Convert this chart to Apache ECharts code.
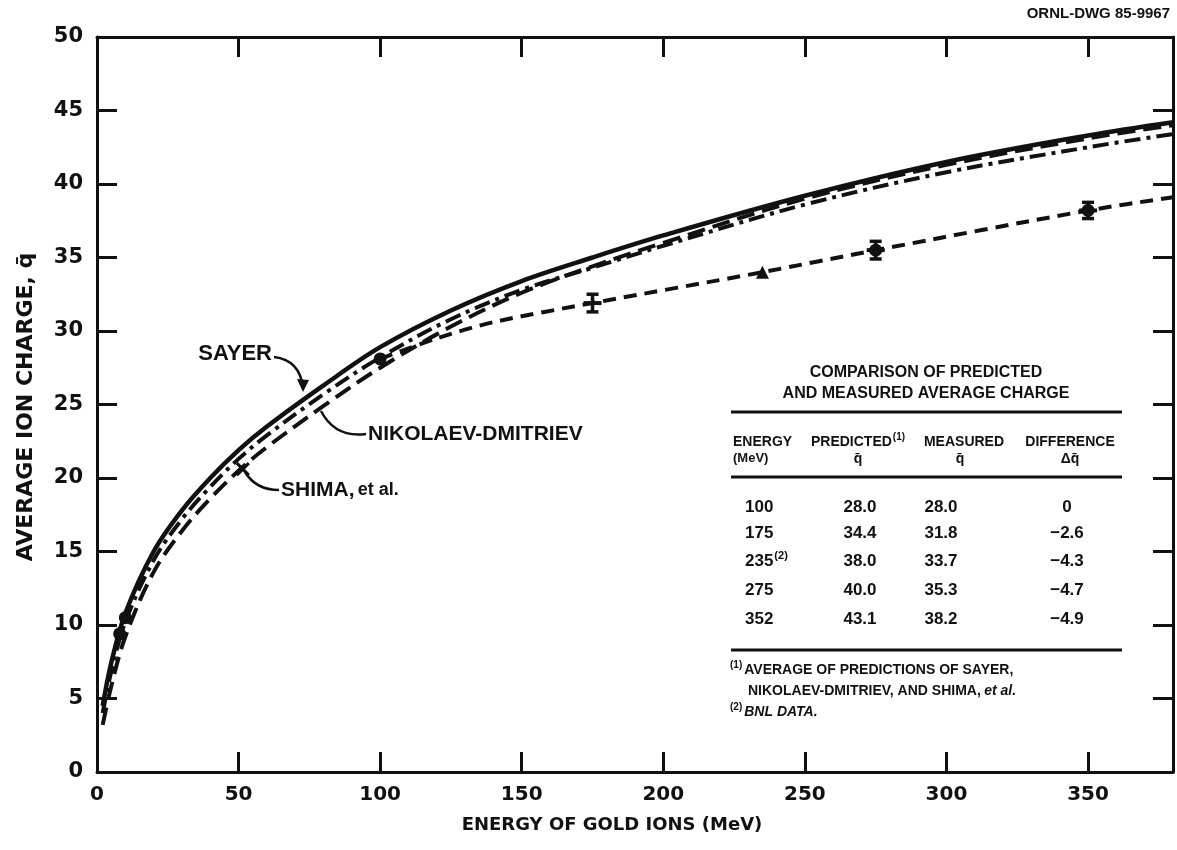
<!DOCTYPE html>
<html><head><meta charset="utf-8">
<script src="https://cdn.jsdelivr.net/npm/echarts@6/dist/echarts.min.js"></script>
<style>html,body{margin:0;padding:0;background:#fff}#c{width:1177px;height:850px}</style>
</head><body><div id="c"></div>
<script>
// Energy grid (MeV) for the three theoretical curves
const energy   = [2, 5, 10, 20, 30, 40, 50, 60, 80, 100, 125, 150, 175, 200, 250, 300, 350, 380];
const sayer    = [4.5, 7.4, 10.8, 15.0, 17.8, 20.0, 21.9, 23.5, 26.3, 28.9, 31.4, 33.4, 35.0, 36.5, 39.2, 41.5, 43.3, 44.2];
const nikolaev = [4.0, 6.8, 10.2, 14.4, 17.2, 19.4, 21.3, 22.9, 25.7, 28.2, 30.8, 32.8, 34.3, 35.8, 38.6, 40.8, 42.5, 43.4];
const shima    = [3.2, 5.8, 9.2, 13.6, 16.4, 18.6, 20.5, 22.1, 24.9, 27.5, 30.3, 32.6, 34.4, 36.0, 39.0, 41.3, 43.1, 44.0];
// measured trend line
const measuredLineE = [100, 120, 140, 175, 235, 275, 350, 380];
const measuredLineQ = [28.1, 29.5, 30.6, 31.9, 34.0, 35.5, 38.2, 39.1];
// measured points
const circlePts = [[8, 9.4], [10, 10.5], [100, 28.1], [275, 35.5], [350, 38.2]];
const trianglePts = [[235, 34.0]];
const errorBars = [[175, 31.9, 0.6], [275, 35.5, 0.6], [350, 38.2, 0.55]];
const shimaMark = [[51.5, 20.6]];
// axis ticks
const xTicks = [0, 50, 100, 150, 200, 250, 300, 350];
const yTicks = [0, 5, 10, 15, 20, 25, 30, 35, 40, 45, 50];
// table
const tblEnergy = ['100', '175', '235', '275', '352'];
const tblPred   = ['28.0', '34.4', '38.0', '40.0', '43.1'];
const tblMeas   = ['28.0', '31.8', '33.7', '35.3', '38.2'];
const tblDiff   = ['0', '\u22122.6', '\u22124.3', '\u22124.7', '\u22124.9'];

const INK = '#111';
const FONT = "'Liberation Sans', Arial, sans-serif";
const WFONT = "'DejaVu Sans', 'Liberation Sans', sans-serif";
const pair = (xs, ys) => xs.map((x, i) => [x, ys[i]]);

const chart = echarts.init(document.getElementById('c'), null, {renderer: 'canvas'});

const axisCommon = () => ({
  type: 'value', min: 0,
  axisLine: {show: true, onZero: false, lineStyle: {color: INK, width: 3}},
  axisTick: {show: true, inside: true, length: 20, lineStyle: {color: INK, width: 3}},
  splitLine: {show: false}
});

const option = {
  animation: false,
  backgroundColor: '#fff',
  grid: {left: 97, right: 4, top: 37, bottom: 78, containLabel: false},
  xAxis: [
    Object.assign(axisCommon(), {
      position: 'bottom', max: 380, interval: 50,
      axisLabel: {show: true, color: INK, fontFamily: WFONT, fontWeight: 'bold', fontSize: 20, margin: 13,
        showMaxLabel: false,
        formatter: v => xTicks.includes(v) ? String(v) : ''}
    }),
    Object.assign(axisCommon(), {position: 'top', max: 380, interval: 50, axisLabel: {show: false}})
  ],
  yAxis: [
    Object.assign(axisCommon(), {
      position: 'left', max: 50, interval: 5,
      axisLabel: {show: true, color: INK, fontFamily: WFONT, fontWeight: 'bold', fontSize: 21, margin: 14,
        formatter: v => yTicks.includes(v) ? String(v) : ''}
    }),
    Object.assign(axisCommon(), {position: 'right', max: 50, interval: 5, axisLabel: {show: false}})
  ],
  series: [
    {name: 'SAYER', type: 'line', data: pair(energy, sayer), smooth: 0.35, showSymbol: false,
      lineStyle: {color: INK, width: 4.5, type: 'solid'}},
    {name: 'NIKOLAEV-DMITRIEV', type: 'line', data: pair(energy, nikolaev), smooth: 0.35, showSymbol: false,
      lineStyle: {color: INK, width: 4, type: [16, 6, 4, 6]}},
    {name: 'SHIMA', type: 'line', data: pair(energy, shima), smooth: 0.35, showSymbol: false,
      lineStyle: {color: INK, width: 4, type: [18, 8]}},
    {name: 'MEASURED', type: 'line', data: pair(measuredLineE, measuredLineQ), smooth: 0.3, showSymbol: false,
      lineStyle: {color: INK, width: 4, type: [13, 8]}},
    {type: 'scatter', data: circlePts, symbol: 'circle', symbolSize: 13, itemStyle: {color: INK, opacity: 1}, z: 5},
    {type: 'scatter', data: trianglePts, symbol: 'triangle', symbolSize: 13, itemStyle: {color: INK, opacity: 1}, z: 5},
    {type: 'scatter', data: shimaMark, symbol: 'path://M0,0 L10,10 M10,0 L0,10', symbolSize: 12,
      itemStyle: {color: 'none', borderColor: INK, borderWidth: 3, opacity: 1}, z: 5},
    {type: 'custom', data: errorBars, z: 6,
      renderItem: function (params, api) {
        const x = api.value(0), y = api.value(1), e = api.value(2);
        const top = api.coord([x, y + e]), bot = api.coord([x, y - e]), mid = api.coord([x, y]);
        const cw = 6;
        return {type: 'group', children: [
          {type: 'line', shape: {x1: top[0], y1: top[1], x2: bot[0], y2: bot[1]}, style: {stroke: INK, lineWidth: 3.5}},
          {type: 'line', shape: {x1: top[0] - cw, y1: top[1], x2: top[0] + cw, y2: top[1]}, style: {stroke: INK, lineWidth: 3.5}},
          {type: 'line', shape: {x1: bot[0] - cw, y1: bot[1], x2: bot[0] + cw, y2: bot[1]}, style: {stroke: INK, lineWidth: 3.5}},
          {type: 'line', shape: {x1: mid[0] - 9, y1: mid[1], x2: mid[0] + 9, y2: mid[1]}, style: {stroke: INK, lineWidth: 4}}
        ]};
      }}
  ]
};

// ---------- text and annotation graphics ----------
const g = [];
const txt = (x, y, text, size, opts, family) => g.push({
  type: 'text', x: x, y: y, z: 20,
  style: Object.assign({text: text, fill: INK, font: `bold ${size}px ${family || FONT}`, textAlign: 'left', textVerticalAlign: 'middle'}, (opts && opts.style) || {})
});

txt(1170, 14, 'ORNL-DWG 85-9967', 15, {style: {textAlign: 'right'}});
txt(612, 825, 'ENERGY OF GOLD IONS (MeV)', 18, {style: {textAlign: 'center'}}, WFONT);
g.push({type: 'text', x: 26, y: 407, rotation: Math.PI / 2, z: 20,
  style: {text: 'AVERAGE ION CHARGE, q\u0304', fill: INK, font: `bold 22px ${WFONT}`, textAlign: 'center', textVerticalAlign: 'middle'}});

// curve labels
txt(272, 354, 'SAYER', 22, {style: {textAlign: 'right'}});
txt(368, 434, 'NIKOLAEV-DMITRIEV', 21);
g.push({type: 'text', x: 281, y: 490, z: 20, style: {
  text: '{b|SHIMA,} {i|et al.}', textVerticalAlign: 'middle',
  rich: {b: {font: `bold 21px ${FONT}`, fill: INK}, i: {font: `bold 18px ${FONT}`, fill: INK}}}});

// pointers
const ptr = (x1, y1, cx, cy, x2, y2) => g.push({type: 'bezierCurve', z: 20,
  shape: {x1: x1, y1: y1, cpx1: cx, cpy1: cy, x2: x2, y2: y2}, style: {stroke: INK, lineWidth: 2.5, fill: 'none'}});
ptr(274, 357, 300, 360, 303, 388);
g.push({type: 'polygon', z: 21, shape: {points: [[297, 379], [309, 380], [303, 392]]}, style: {fill: INK}});
ptr(366, 434, 335, 438, 321, 411);
ptr(279, 490, 256, 490, 245, 472);

// table
const TL = 731, TR = 1122;
const hline = (y, w) => g.push({type: 'line', z: 20, shape: {x1: TL, y1: y, x2: TR, y2: y}, style: {stroke: INK, lineWidth: w}});
txt(926, 373, 'COMPARISON OF PREDICTED', 16, {style: {textAlign: 'center'}});
txt(926, 394, 'AND MEASURED AVERAGE CHARGE', 16, {style: {textAlign: 'center'}});
hline(412, 3);
const colX = [762, 858, 964, 1070];
txt(733, 442, 'ENERGY', 14);
txt(733, 458, '(MeV)', 13);
g.push({type: 'text', x: colX[1], y: 442, z: 20, style: {
  text: '{a|PREDICTED}{s|(1)}', textAlign: 'center', textVerticalAlign: 'middle',
  rich: {a: {font: `bold 14px ${FONT}`, fill: INK}, s: {font: `bold 10px ${FONT}`, fill: INK, padding: [0, 0, 9, 1]}}}});
txt(colX[1], 459, 'q\u0304', 14, {style: {textAlign: 'center'}});
txt(colX[2], 442, 'MEASURED', 14, {style: {textAlign: 'center'}});
txt(colX[2] - 4, 459, 'q\u0304', 14, {style: {textAlign: 'center'}});
txt(colX[3], 442, 'DIFFERENCE', 14, {style: {textAlign: 'center'}});
txt(colX[3], 459, '\u0394q\u0304', 14, {style: {textAlign: 'center'}});
hline(477, 3);
const rowY = [507, 533, 561, 590, 619];
tblEnergy.forEach((v, i) => {
  if (i === 2) {
    g.push({type: 'text', x: 745, y: rowY[i], z: 20, style: {
      text: '{a|' + v + '}{s|(2)}', textVerticalAlign: 'middle',
      rich: {a: {font: `bold 17px ${FONT}`, fill: INK}, s: {font: `bold 11px ${FONT}`, fill: INK, padding: [0, 0, 11, 1]}}}});
  } else {
    txt(745, rowY[i], v, 17);
  }
  txt(860, rowY[i], tblPred[i], 17, {style: {textAlign: 'center'}});
  txt(941, rowY[i], tblMeas[i], 17, {style: {textAlign: 'center'}});
  txt(1067, rowY[i], tblDiff[i], 17, {style: {textAlign: 'center'}});
});
hline(650, 3);
g.push({type: 'text', x: 730, y: 670, z: 20, style: {
  text: '{s|(1)}{a|AVERAGE OF PREDICTIONS OF SAYER,}', textVerticalAlign: 'middle',
  rich: {a: {font: `bold 14px ${FONT}`, fill: INK}, s: {font: `bold 10px ${FONT}`, fill: INK, padding: [0, 2, 10, 0]}}}});
g.push({type: 'text', x: 748, y: 691, z: 20, style: {
  text: '{a|NIKOLAEV-DMITRIEV, AND SHIMA,} {i|et al.}', textVerticalAlign: 'middle',
  rich: {a: {font: `bold 14px ${FONT}`, fill: INK}, i: {font: `italic bold 14px ${FONT}`, fill: INK}}}});
g.push({type: 'text', x: 730, y: 712, z: 20, style: {
  text: '{s|(2)}{i|BNL DATA.}', textVerticalAlign: 'middle',
  rich: {i: {font: `italic bold 14px ${FONT}`, fill: INK}, s: {font: `bold 10px ${FONT}`, fill: INK, padding: [0, 2, 10, 0]}}}});

option.graphic = g;
chart.setOption(option);
</script></body></html>
